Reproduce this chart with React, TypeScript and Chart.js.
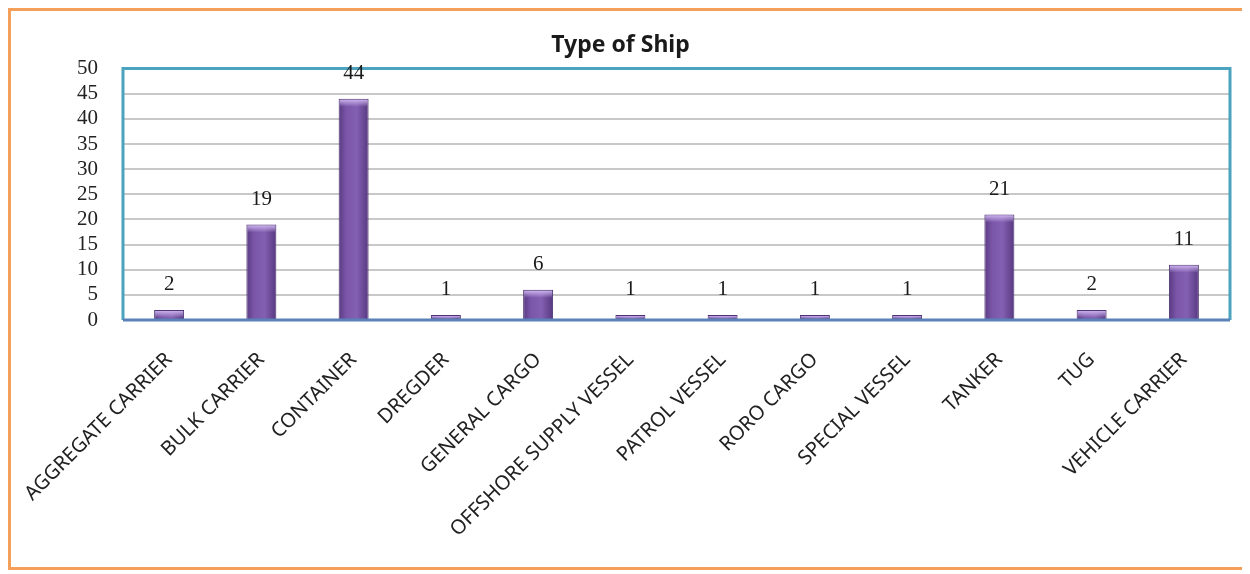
import React, { useEffect, useRef } from "react";
import { Chart, registerables } from "chart.js";

Chart.register(...registerables);

const categories = [
  "AGGREGATE CARRIER",
  "BULK CARRIER",
  "CONTAINER",
  "DREGDER",
  "GENERAL CARGO",
  "OFFSHORE SUPPLY VESSEL",
  "PATROL VESSEL",
  "RORO CARGO",
  "SPECIAL VESSEL",
  "TANKER",
  "TUG",
  "VEHICLE CARRIER",
];
const counts = [2, 19, 44, 1, 6, 1, 1, 1, 1, 21, 2, 11];
const yTicks = [0, 5, 10, 15, 20, 25, 30, 35, 40, 45, 50];
const chartTitle = "Type of Ship";

const frameBorder = {
  id: "frameBorder",
  afterDatasetsDraw(chart: any) {
    const { ctx, chartArea } = chart;
    const meta = chart.getDatasetMeta(0);
    ctx.save();
    // soft light cap on top of each bar
    meta.data.forEach((bar: any) => {
      const w = bar.width - 2;
      const h = Math.min(7, Math.abs(bar.base - bar.y) - 1);
      if (h <= 0) return;
      const g = ctx.createLinearGradient(0, bar.y + 1, 0, bar.y + 1 + h);
      g.addColorStop(0, "rgba(205,180,238,0.95)");
      g.addColorStop(1, "rgba(205,180,238,0)");
      ctx.fillStyle = g;
      ctx.fillRect(bar.x - w / 2, bar.y + 1, w, h);
    });
    ctx.strokeStyle = "#4BA3BE";
    ctx.lineWidth = 3;
    ctx.beginPath();
    ctx.moveTo(chartArea.left, chartArea.bottom);
    ctx.lineTo(chartArea.left, chartArea.top);
    ctx.lineTo(chartArea.right, chartArea.top);
    ctx.lineTo(chartArea.right, chartArea.bottom);
    ctx.stroke();
    ctx.strokeStyle = "#5A82B8";
    ctx.beginPath();
    ctx.moveTo(chartArea.left, chartArea.bottom);
    ctx.lineTo(chartArea.right, chartArea.bottom);
    ctx.stroke();
    ctx.restore();
  },
};

const valueLabels = {
  id: "valueLabels",
  afterDraw(chart: any) {
    const { ctx } = chart;
    const meta = chart.getDatasetMeta(0);
    ctx.save();
    ctx.fillStyle = "#1a1a1a";
    ctx.font = "21px 'Liberation Serif'";
    ctx.textAlign = "center";
    ctx.textBaseline = "middle";
    meta.data.forEach((bar: any, i: number) => {
      ctx.fillText(String(counts[i]), bar.x, bar.y - 25);
    });
    ctx.restore();
  },
};

export default function App() {
  const ref = useRef<HTMLCanvasElement | null>(null);
  useEffect(() => {
    if (!ref.current) return;
    const chart = new Chart(ref.current, {
      type: "bar",
      data: {
        labels: categories,
        datasets: [
          {
            data: counts,
            backgroundColor: (c: any) => {
              const ch = c.chart;
              const xs = ch.scales && ch.scales.x;
              if (!xs || !ch.chartArea || c.dataIndex === undefined) return "#7B55A8";
              const cx = xs.getPixelForValue(c.dataIndex);
              const w = 15;
              const g = ch.ctx.createLinearGradient(cx - w, 0, cx + w, 0);
              g.addColorStop(0, "#5A3A82");
              g.addColorStop(0.25, "#7A55A8");
              g.addColorStop(0.6, "#8460B2");
              g.addColorStop(1, "#573880");
              return g;
            },
            borderColor: "#4A306E",
            borderWidth: 1,
            barPercentage: 0.65,
            categoryPercentage: 0.5,
          },
        ],
      },
      options: {
        animation: false,
        responsive: false,
        maintainAspectRatio: false,
        layout: { padding: { left: 0, right: 13, top: 0, bottom: 0 } },
        plugins: {
          legend: { display: false },
          tooltip: { enabled: false },
          title: {
            display: true,
            text: chartTitle,
            color: "#1a1a1a",
            font: { family: "'Noto Sans'", size: 23, weight: "bold" },
            padding: { top: 21, bottom: 9 },
          },
        },
        scales: {
          x: {
            grid: { display: false, drawTicks: false },
            border: { display: false },
            ticks: {
              color: "#222",
              font: { family: "'Noto Sans'", size: 20 },
              maxRotation: 45,
              minRotation: 45,
              autoSkip: false,
              padding: 28,
            },
            afterFit: (s: any) => {
              s.height = 247;
              s.paddingLeft = 0;
              s.paddingRight = 0;
            },
          },
          y: {
            min: 0,
            max: 50,
            afterBuildTicks: (s: any) => {
              s.ticks = yTicks.map((v) => ({ value: v }));
            },
            grid: { color: "#C8C8C8", lineWidth: 2, drawTicks: false },
            border: { display: false },
            ticks: {
              color: "#222",
              font: { family: "'Liberation Serif'", size: 21 },
              padding: 25,
              autoSkip: false,
            },
            afterFit: (s: any) => {
              s.width = 112;
              s.paddingTop = 0;
              s.paddingBottom = 0;
            },
          },
        },
      },
      plugins: [frameBorder, valueLabels],
    });
    return () => chart.destroy();
  }, []);
  return (
    <div
      style={{
        width: 1232,
        height: 556,
        border: "3px solid #F4A05A",
        boxShadow: "0 0 3px #F8B47A",
        background: "#fff",
      }}
    >
      <canvas ref={ref} width={1232} height={556} style={{ display: "block" }} />
    </div>
  );
}
